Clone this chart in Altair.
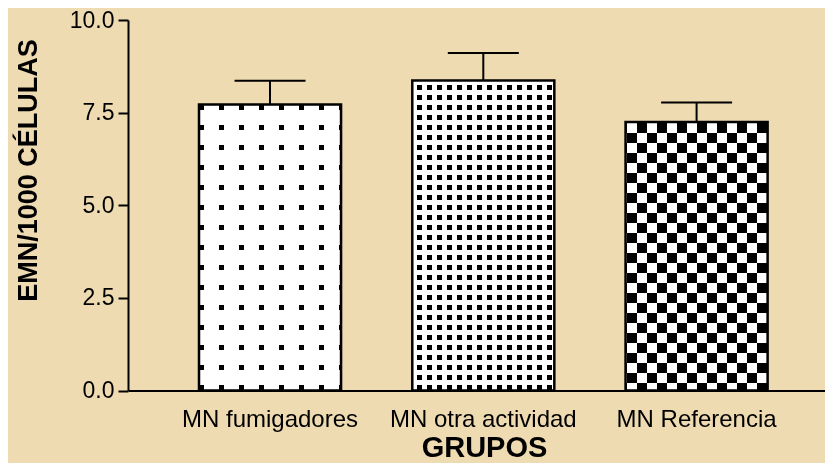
import altair as alt
import pandas as pd

# ---- data ----
categories = ["MN fumigadores", "MN otra actividad", "MN Referencia"]
means = [7.72, 8.37, 7.25]
sems = [0.64, 0.74, 0.52]
y_ticks = [0, 2.5, 5, 7.5, 10]

df = pd.DataFrame({"grupo": categories, "media": means, "sem": sems})
df["sup"] = df["media"] + df["sem"]

# ---- layout / style ----
W, H = 697, 370.5
PAD_TOP, PAD_BOTTOM = 12, 72.5
FONT = "Liberation Sans"
P_IN, P_OUT, ALIGN = 0.334, 0.301, 0.553
STEP = W / (3 - P_IN + 2 * P_OUT)
BAND = STEP * (1 - P_IN)
BG = "#EFDBB2"

# pattern styles: (period, mark width, start) for x-stripes and y-stripes, blend
patterns = [
    dict(xs=(20, 4.5, 0), ys=(20, 4.5, 1), blend="lighten"),
    dict(xs=(10, 5, 5), ys=(10, 5, 4.5), blend="lighten"),
    dict(xs=(20, 10, 11), ys=(20, 10, 1), blend="difference"),
]


def stripe_stops(length, period, width, start):
    intervals = []
    s = start - 2 * period
    while s < length:
        a, b = max(s, 0.0), min(s + width, length)
        if b > a:
            intervals.append((a, b))
        s += period
    stops = []
    cur = 0.0
    for a, b in intervals:
        if a > cur:
            stops += [(cur, "#ffffff"), (a, "#ffffff")]
        stops += [(a, "#000000"), (b, "#000000")]
        cur = b
    if cur < length:
        stops += [(cur, "#ffffff"), (length, "#ffffff")]
    return [{"offset": round(p / length, 5), "color": c} for p, c in stops]


def gradient(length, spec, horizontal):
    g = {"gradient": "linear", "stops": stripe_stops(length, *spec)}
    if horizontal:
        g.update(x1=0, y1=0, x2=1, y2=0)
    else:
        g.update(x1=0, y1=0, x2=0, y2=1)
    return g


x_axis = alt.Axis(
    title="GRUPOS",
    labelAngle=0,
    labelFont=FONT,
    labelFontSize=24,
    labelColor="black",
    labelPadding=17,
    labelLimit=400,
    ticks=False,
    tickSize=0,
    domainColor="black",
    domainWidth=2,
    grid=False,
    titleFont=FONT,
    titleFontSize=29,
    titleFontWeight="bold",
    titleColor="black",
    titleX=356,
    titleY=PAD_BOTTOM - 0.5,
    titleAlign="center",
    titleBaseline="bottom",
)

y_axis = alt.Axis(
    title="EMN/1000 CÉLULAS",
    values=y_ticks,
    format=".1f",
    labelFont=FONT,
    labelFontSize=23,
    labelColor="black",
    labelPadding=4,
    tickSize=10,
    tickWidth=2,
    tickColor="black",
    domainColor="black",
    domainWidth=2,
    grid=False,
    titleFont=FONT,
    titleFontSize=27,
    titleFontWeight="bold",
    titleColor="black",
    titleAngle=270,
    titleX=-100,
    titleY=150,
    titleAlign="center",
    titleBaseline="middle",
)

x_scale = alt.Scale(domain=categories, paddingInner=P_IN, paddingOuter=P_OUT, align=ALIGN)
y_scale = alt.Scale(domain=[0, 10], nice=False)

x_enc = alt.X("grupo:N", sort=categories, scale=x_scale, axis=x_axis)
y_enc = alt.Y("media:Q", scale=y_scale, axis=y_axis)

base = alt.Chart(df)
layers = []
for cat, m, pat in zip(categories, means, patterns):
    h_px = m / 10 * H
    sub = base.transform_filter(alt.datum.grupo == cat)
    layers.append(
        sub.mark_bar(fill=gradient(BAND, pat["xs"], True), opacity=1).encode(x=x_enc, y=y_enc)
    )
    layers.append(
        sub.mark_bar(fill=gradient(h_px, pat["ys"], False), opacity=1, blend=pat["blend"]).encode(
            x=x_enc, y=y_enc
        )
    )

outline = base.mark_bar(fillOpacity=0, stroke="black", strokeWidth=2.5).encode(x=x_enc, y=y_enc)
rule = base.mark_rule(color="black", strokeWidth=2).encode(x=x_enc, y=y_enc, y2="sup:Q")
cap = base.mark_tick(color="black", thickness=2, size=71, opacity=1).encode(
    x=x_enc, y=alt.Y("sup:Q", scale=y_scale, axis=y_axis)
)

chart = (
    alt.layer(*layers, outline, rule, cap)
    .properties(
        width=W,
        height=H,
        autosize=alt.AutoSizeParams(type="none"),
        padding={"left": 120, "top": PAD_TOP, "right": 0, "bottom": PAD_BOTTOM},
        background=BG,
    )
    .configure_view(strokeWidth=0)
)

chart.save("out.html", embed_options={"renderer": "svg", "actions": False})
